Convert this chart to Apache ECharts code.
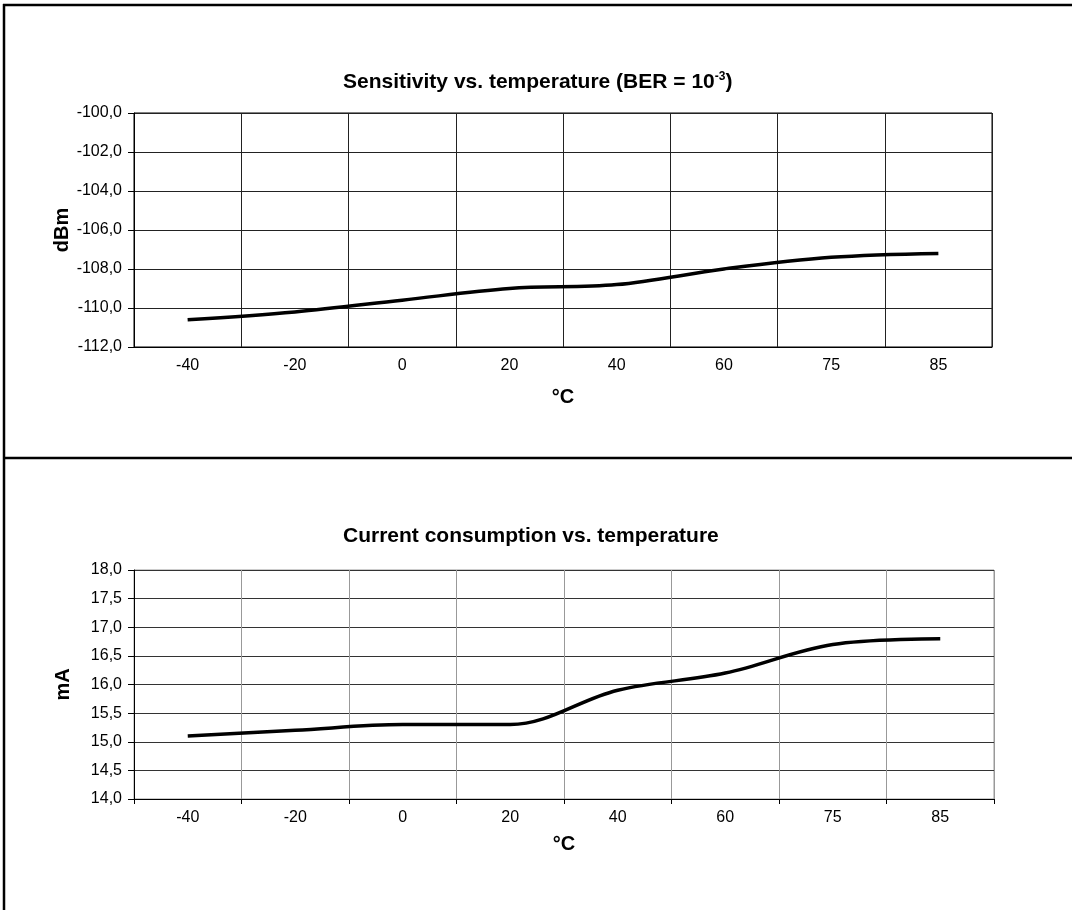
<!DOCTYPE html>
<html>
<head>
<meta charset="utf-8">
<title>Sensitivity and current vs. temperature</title>
<script src="https://cdn.jsdelivr.net/npm/echarts@6/dist/echarts.min.js"></script>
<style>
  html, body { margin: 0; padding: 0; background: #fff; }
  #chart { width: 1072px; height: 910px; }
</style>
</head>
<body>
<div id="chart"></div>
<script>
// temperature categories (°C)
var temps = ['-40', '-20', '0', '20', '40', '60', '75', '85'];
// sensitivity at BER = 1e-3 (dBm)
var sensitivity = [-110.6, -110.2, -109.6, -109.0, -108.8, -108.0, -107.4, -107.2];
// current consumption (mA)
var current = [15.1, 15.2, 15.3, 15.3, 15.9, 16.2, 16.7, 16.8];

var FONT = '"Liberation Sans", Arial, sans-serif';

function comma(v) {
  return v.toFixed(1).replace('.', ',');
}

function xAxisOf(gridIndex, tick, vColor, gap) {
  return {
    type: 'category',
    gridIndex: gridIndex,
    data: temps,
    boundaryGap: true,
    name: '°C',
    nameLocation: 'middle',
    nameGap: gap,
    nameMoveOverlap: false,
    nameTextStyle: { fontFamily: FONT, fontWeight: 'bold', fontSize: 20, color: '#000' },
    axisLine: { lineStyle: { color: '#000', width: 1 } },
    axisTick: { show: tick, length: 5, lineStyle: { color: '#000' } },
    axisLabel: { fontFamily: FONT, fontSize: 16, color: '#000', margin: 11 },
    splitLine: { show: true, lineStyle: { color: vColor, width: 1 } }
  };
}

function yAxisOf(gridIndex, name, min, max, step, hColor, gap) {
  return {
    type: 'value',
    gridIndex: gridIndex,
    min: min,
    max: max,
    interval: step,
    name: name,
    nameLocation: 'middle',
    nameRotate: 90,
    nameGap: gap,
    nameMoveOverlap: false,
    nameTextStyle: { fontFamily: FONT, fontWeight: 'bold', fontSize: 20, color: '#000' },
    axisLine: { show: true, lineStyle: { color: '#000', width: 1 } },
    axisTick: { show: true, length: 6, lineStyle: { color: '#000' } },
    axisLabel: { fontFamily: FONT, fontSize: 16, color: '#000', margin: 12, formatter: comma },
    splitLine: { show: true, lineStyle: { color: hColor, width: 1 } }
  };
}

var chart = echarts.init(document.getElementById('chart'), null, { renderer: 'canvas' });

chart.setOption({
  animation: false,
  backgroundColor: '#fff',
  title: [
    {
      left: 343,
      top: 71,
      padding: 0,
      text: '{t|Sensitivity vs. temperature (BER = 10}{s|-3}{t|)}',
      textStyle: {
        rich: {
          t: { fontFamily: FONT, fontWeight: 'bold', fontSize: 21, color: '#000' },
          s: { fontFamily: FONT, fontWeight: 'bold', fontSize: 12, color: '#000', verticalAlign: 'top', padding: [0, 0, 10, 0] }
        }
      }
    },
    {
      left: 343,
      top: 526,
      padding: 0,
      text: 'Current consumption vs. temperature',
      textStyle: { fontFamily: FONT, fontWeight: 'bold', fontSize: 21, color: '#000' }
    }
  ],
  grid: [
    { left: 134, top: 113, width: 858, height: 234, show: true, borderColor: '#000', borderWidth: 1, backgroundColor: 'transparent' },
    { left: 134, top: 570, width: 860, height: 229, show: true, borderColor: '#999', borderWidth: 1, backgroundColor: 'transparent' }
  ],
  xAxis: [
    xAxisOf(0, false, '#222', 40),
    xAxisOf(1, true, '#999', 35)
  ],
  yAxis: [
    yAxisOf(0, 'dBm', -112, -100, 2, '#222', 62),
    yAxisOf(1, 'mA', 14, 18, 0.5, '#333', 61)
  ],
  series: [
    {
      type: 'line',
      xAxisIndex: 0,
      yAxisIndex: 0,
      data: sensitivity,
      smooth: 0.35,
      symbol: 'none',
      lineStyle: { color: '#000', width: 3.5 }
    },
    {
      type: 'line',
      xAxisIndex: 1,
      yAxisIndex: 1,
      data: current,
      smooth: 0.35,
      symbol: 'none',
      lineStyle: { color: '#000', width: 3.5 }
    }
  ],
  graphic: [
    { type: 'line', shape: { x1: 3, y1: 5, x2: 1072, y2: 5 }, style: { stroke: '#000', lineWidth: 2.5 } },
    { type: 'line', shape: { x1: 4, y1: 4, x2: 4, y2: 910 }, style: { stroke: '#000', lineWidth: 2.5 } },
    { type: 'line', shape: { x1: 3, y1: 458, x2: 1072, y2: 458 }, style: { stroke: '#000', lineWidth: 2.5 } }
  ]
});
</script>
</body>
</html>
